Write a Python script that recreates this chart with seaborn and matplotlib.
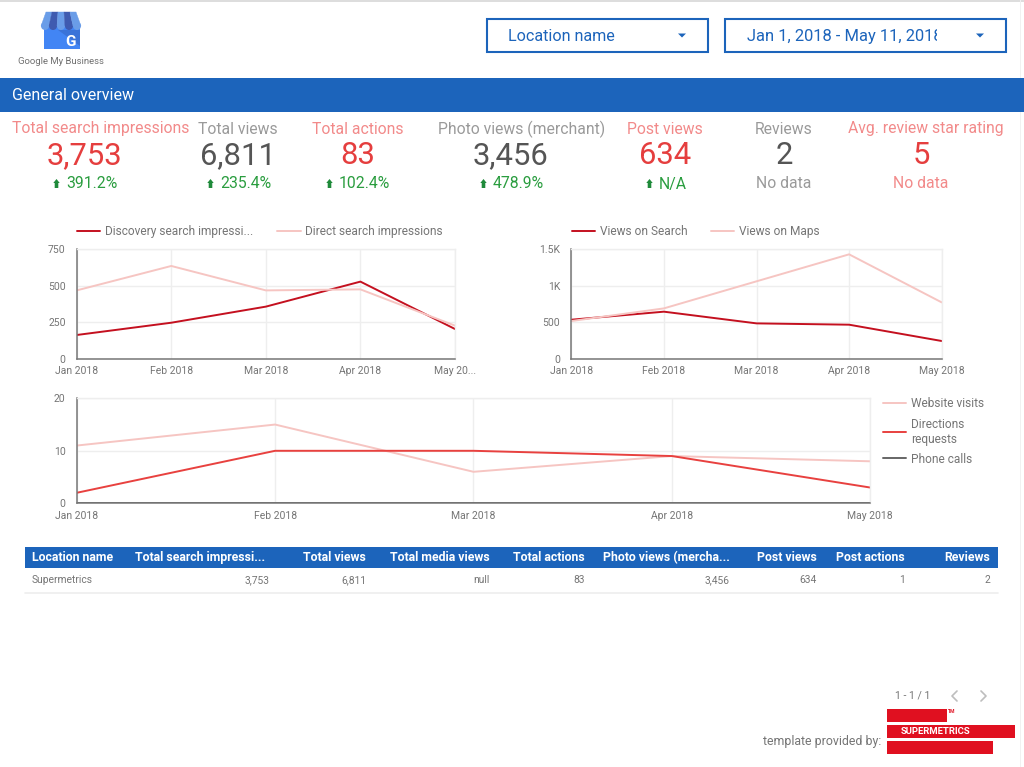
import pandas as pd
import seaborn as sns
from matplotlib import pyplot as plt
from matplotlib.patches import Rectangle, Polygon, Ellipse

months = ['Jan 2018', 'Feb 2018', 'Mar 2018', 'Apr 2018', 'May 2018']

# search impressions chart
discovery = [162, 246, 356, 527, 203]
direct = [467, 634, 467, 474, 226]
# views chart
views_search = [533, 643, 483, 465, 242]
views_maps = [515, 688, 1058, 1427, 770]
# actions chart
website_visits = [11, 15, 6, 9, 8]
directions = [2, 10, 10, 9, 3]
phone_calls = [0, 0, 0, 0, 0]

# scorecards
kpi_labels = ['Total search impressions', 'Total views', 'Total actions', 'Photo views (merchant)',
              'Post views', 'Reviews', 'Avg. review star rating']
kpi_values = ['3,753', '6,811', '83', '3,456', '634', '2', '5']
kpi_deltas = ['391.2%', '235.4%', '102.4%', '478.9%', 'N/A', 'No data', 'No data']

# table
table_headers = ['Location name', 'Total search impressi...', 'Total views', 'Total media views', 'Total actions',
                 'Photo views (mercha...', 'Post views', 'Post actions', 'Reviews']
table_row = ['Supermetrics', '3,753', '6,811', 'null', '83', '3,456', '634', '1', '2']

BLUE = '#1c64bb'
DARK_RED = '#c4101f'
PALE_RED = '#f6c5c2'
RED = '#e8413f'
GREY_TEXT = '#757575'
GRID = '#eeeeee'

sns.set_theme(style='white')
plt.rcParams['font.family'] = ['Roboto', 'DejaVu Sans']

fig = plt.figure(figsize=(10.24, 7.67), dpi=100)

# whole page axes in pixels, used for the dashboard furniture
page = fig.add_axes([0, 0, 1, 1])
page.set_xlim(0, 1024)
page.set_ylim(767, 0)
page.axis('off')


def chart_axes(left, top, right, bottom):
    return fig.add_axes([left / 1024, 1 - bottom / 767, (right - left) / 1024, (bottom - top) / 767])


def draw_chart(ax, series, colors, yticks, ylabels, xlabels):
    """Draw one time series panel from a dict of name -> values."""
    frame = pd.DataFrame({'month': months, **series}).melt('month', var_name='series', value_name='value')
    sns.lineplot(ax=ax, data=frame, x='month', y='value', hue='series', palette=colors,
                 hue_order=list(series), linewidth=1.4, sort=False)
    ax.set_xlim(0, 4)
    ax.set_ylim(yticks[0], yticks[-1])
    ax.set_xticks(range(5), xlabels)
    ax.set_yticks(yticks, ylabels)
    ax.set_xlabel('')
    ax.set_ylabel('')
    ax.grid(True, color=GRID, linewidth=1)
    ax.set_axisbelow(True)
    ax.tick_params(length=0, labelsize=7.5, labelcolor=GREY_TEXT)
    ax.tick_params(axis='x', pad=5.5)
    ax.tick_params(axis='y', pad=8)
    for side in ['top', 'right']:
        ax.spines[side].set_color(GRID)
        ax.spines[side].set_linewidth(1)
    for side in ['left', 'bottom']:
        ax.spines[side].set_color('#777777')
        ax.spines[side].set_linewidth(1.1)


def chart_legend(ax, x, y, ncol, columnspacing=2.0, labelspacing=0.5):
    ax.legend(loc='center left', bbox_to_anchor=(x, y), bbox_transform=page.transData, ncol=ncol,
              frameon=False, fontsize=8.6, labelcolor=GREY_TEXT, handlelength=1.95, handletextpad=0.4,
              columnspacing=columnspacing, labelspacing=labelspacing, borderpad=0, borderaxespad=0)


ax1 = chart_axes(76.7, 249, 455, 358.7)
draw_chart(ax1, {'Discovery search impressi...': discovery, 'Direct search impressions': direct},
           [DARK_RED, PALE_RED], [0, 250, 500, 750], ['0', '250', '500', '750'],
           months[:4] + ['May 20...'])
chart_legend(ax1, 77, 231.5, 2)

ax2 = chart_axes(571.3, 249, 941.7, 358.7)
draw_chart(ax2, {'Views on Search': views_search, 'Views on Maps': views_maps},
           [DARK_RED, PALE_RED], [0, 500, 1000, 1500], ['0', '500', '1K', '1.5K'], months)
chart_legend(ax2, 571.5, 231.5, 2)

ax3 = chart_axes(76.7, 398.3, 870.3, 503.3)
draw_chart(ax3, {'Website visits': website_visits, 'Directions\nrequests': directions, 'Phone calls': phone_calls},
           [PALE_RED, RED, '#666666'], [0, 10, 20], ['0', '10', '20'], months)
chart_legend(ax3, 883, 431.5, 1, labelspacing=0.6)

# page edges
page.add_patch(Rectangle((0, 0), 1024, 1.5, color='#dddddd', lw=0))
page.add_patch(Rectangle((1020, 0), 1, 767, color='#f1f1f1', lw=0))

# logo
page.add_patch(Rectangle((44, 24), 36, 25, color='#4285f4', lw=0))
page.add_patch(Polygon([(44, 30), (58, 30), (80, 46), (80, 30)], color='#3a73d8', lw=0))
stripe_colors = ['#6a9de8', '#3f5bb0', '#6a9de8', '#3f5bb0', '#6a9de8']
for i, stripe in enumerate(stripe_colors):
    x0 = 41 + i * 8
    top0 = 46 + i * 6
    page.add_patch(Polygon([(top0, 12), (top0 + 6, 12), (x0 + 8, 26), (x0, 26)], facecolor=stripe,
                           edgecolor=stripe, lw=0.3))
    page.add_patch(Ellipse((x0 + 4, 26), 8, 8, color=stripe, lw=0))
page.text(70, 42, 'G', color='white', fontsize=11, fontweight='bold', ha='center', va='center')
page.text(61, 62, 'Google My Business', color='#6f6f6f', fontsize=6.8, ha='center', va='center')

# dropdown filters
filter_boxes = [(487, 708, 'Location name', 508, 682, 11.6),
                (725, 1006, 'Jan 1, 2018 - May 11, 2018', 747, 980, 11.9)]
for left, right, label, text_x, arrow_x, size in filter_boxes:
    page.add_patch(Rectangle((left + 1, 20), right - left, 33, color='#e4e4e4', lw=0))
    page.add_patch(Rectangle((left, 19), right - left, 33, facecolor='white', edgecolor=BLUE, lw=1.5))
    page.text(text_x, 36.5, label, color=BLUE, fontsize=size, ha='left', va='center')
    page.add_patch(Polygon([(arrow_x - 4, 33.5), (arrow_x + 4, 33.5), (arrow_x, 37.5)], color=BLUE, lw=0))
# the date range is cut off inside its box in the original
page.add_patch(Rectangle((937, 21), 30, 29, color='white', lw=0, zorder=3.5))

# section bar
page.add_patch(Rectangle((0, 78), 1024, 34, color=BLUE, lw=0))
page.text(12, 95, 'General overview', color='white', fontsize=11.5, ha='left', va='center')

# scorecards
label_centers = [100.5, 238, 357.5, 522, 665, 784, 925.5]
value_centers = [84.5, 237.5, 357.5, 511, 665, 784, 921]
delta_lefts = [66, 220, 339, 493, 659, None, None]
for i, center in enumerate(value_centers):
    is_red = i % 2 == 0
    label_color = '#f28a8a' if is_red else '#9a9a9a'
    value_color = '#e53e3e' if is_red else '#555555'
    page.text(label_centers[i], 129, kpi_labels[i], color=label_color, fontsize=11.3, ha='center', va='center')
    page.text(center, 156, kpi_values[i], color=value_color, fontsize=22.3, ha='center', va='center')
    if delta_lefts[i] is None:
        page.text(center, 184, kpi_deltas[i], color=label_color, fontsize=11.3, ha='center', va='center')
    else:
        page.text(delta_lefts[i], 184, kpi_deltas[i], color='#2a9d3f', fontsize=11.3, ha='left', va='center')
        # little green arrow left of the delta
        arrow_x = delta_lefts[i] - 9.5
        page.add_patch(Polygon([(arrow_x - 3.2, 183), (arrow_x, 179), (arrow_x + 3.2, 183), (arrow_x + 1.8, 183),
                                (arrow_x + 1.8, 188), (arrow_x - 1.8, 188), (arrow_x - 1.8, 183)],
                               color='#1f8a3a', lw=0))

# table
page.add_patch(Rectangle((25, 547), 973, 21, color=BLUE, lw=0))
page.plot([25, 998], [592.5, 592.5], color='#eeeeee', lw=1.2)
col_right = [32, 265, 366, 490, 585, 730, 817, 905, 990]
for i, x in enumerate(col_right):
    align = 'left' if i == 0 else 'right'
    page.text(x, 557.5, table_headers[i], color='white', fontsize=8.8, fontweight='bold', ha=align, va='center')
    cell_x = 270 if i == 1 else x
    page.text(cell_x, 580, table_row[i], color=GREY_TEXT, fontsize=7.4, ha=align, va='center')

# pager
page.text(912.5, 695.5, '1 - 1 / 1', color=GREY_TEXT, fontsize=7.6, ha='center', va='center')
page.plot([957, 952, 957], [691, 696, 701], color='#bdbdbd', lw=1.2)
page.plot([981, 986, 981], [691, 696, 701], color='#bdbdbd', lw=1.2)

# footer logo
page.text(881, 741, 'template provided by:', color=GREY_TEXT, fontsize=8.9, ha='right', va='center')
for x0, y0, w in [(887, 709, 60), (887, 725, 128), (887, 741, 106)]:
    page.add_patch(Rectangle((x0, y0), w, 12.5, color='#e01020', lw=0))
page.text(935.5, 731.5, 'SUPERMETRICS', color='white', fontsize=6.8, fontweight='bold', ha='center', va='center')
page.text(951.5, 711.5, 'TM', color='#e01020', fontsize=3.6, fontweight='bold', ha='center', va='center')

fig.savefig('out.png', dpi=100)
